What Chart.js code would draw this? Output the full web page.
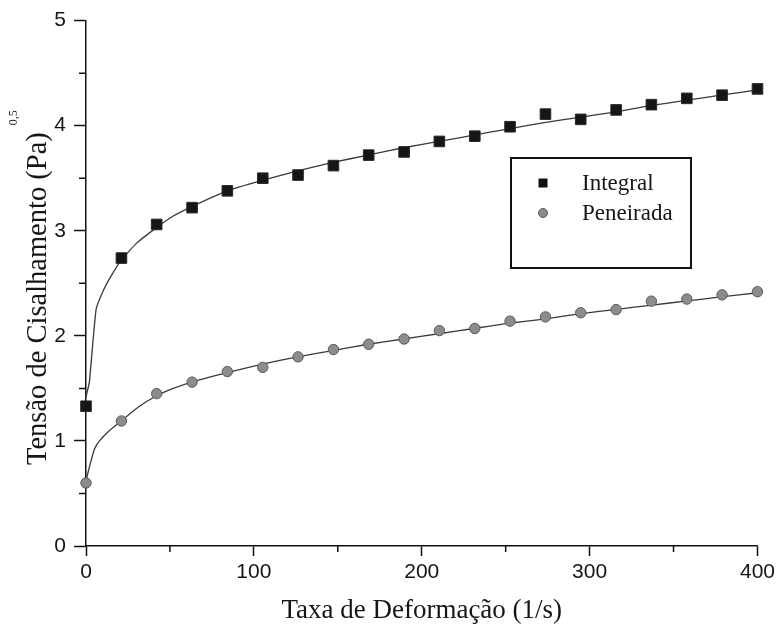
<!DOCTYPE html>
<html>
<head>
<meta charset="utf-8">
<script src="https://cdn.jsdelivr.net/npm/chart.js@4.4.0/dist/chart.umd.min.js"></script>
<style>
  html, body { margin: 0; padding: 0; background: #fff; }
</style>
</head>
<body>
<canvas id="chartTensao" width="779" height="629"></canvas>
<script>
"use strict";

// Taxa de deformação (1/s) dos pontos medidos
var taxa = [0, 21.1, 42.1, 63.2, 84.2, 105.3, 126.3, 147.4, 168.4, 189.5,
            210.5, 231.6, 252.6, 273.7, 294.7, 315.8, 336.8, 357.9, 378.9, 400];

// Tensão de cisalhamento^0,5
var integral  = [1.33, 2.74, 3.06, 3.22, 3.38, 3.50, 3.53, 3.62, 3.72, 3.75,
                 3.85, 3.90, 3.99, 4.11, 4.06, 4.15, 4.20, 4.26, 4.29, 4.35];
var peneirada = [0.60, 1.19, 1.45, 1.56, 1.66, 1.70, 1.80, 1.87, 1.92, 1.97,
                 2.05, 2.07, 2.14, 2.18, 2.22, 2.25, 2.33, 2.35, 2.39, 2.42];

// Curvas de ajuste
var ajusteTaxaI    = [0, 2, 6, 10, 15, 21, 30, 42, 52, 63, 84, 105, 126, 147, 168, 189, 210,
                      231, 252, 273, 294, 315, 336, 357, 378, 400];
var ajusteIntegral = [1.42, 1.56, 2.25, 2.42, 2.57, 2.72, 2.88, 3.03, 3.14, 3.23, 3.38, 3.48, 3.57,
                      3.65, 3.72, 3.79, 3.85, 3.91, 3.97, 4.03, 4.08, 4.13, 4.19, 4.24, 4.29, 4.34];
var ajusteTaxaP     = [0, 2, 5, 8, 14, 21, 31, 42, 52, 63, 84, 105, 126, 147, 168, 189, 210,
                       231, 252, 273, 294, 315, 336, 357, 378, 400];
var ajustePeneirada = [0.62, 0.75, 0.92, 1.00, 1.10, 1.19, 1.32, 1.43, 1.50, 1.56, 1.65, 1.73, 1.80,
                       1.86, 1.92, 1.97, 2.02, 2.07, 2.12, 2.16, 2.21, 2.25, 2.29, 2.33, 2.37, 2.41];

var rotulosX = [0, 100, 200, 300, 400];
var rotulosY = [0, 1, 2, 3, 4, 5];

var tituloX = 'Taxa de Deformação (1/s)';
var tituloY = 'Tensão de Cisalhamento (Pa)';
var expoenteY = '0,5';

function pares(xs, ys) {
  return xs.map(function (x, i) { return { x: x, y: ys[i] }; });
}

var corTexto = '#161616';
var fonteSerif = "'Liberation Serif', 'Times New Roman', serif";
var fonteSans  = "'Liberation Sans', Arial, sans-serif";

// ticks menores mais curtos que os maiores
var ticksMenores = {
  id: 'ticksMenores',
  afterDraw: function (chart) {
    var ctx = chart.ctx, a = chart.chartArea;
    var sx = chart.scales.x, sy = chart.scales.y;
    ctx.save();
    ctx.strokeStyle = '#111';
    ctx.lineWidth = 1.5;
    ctx.beginPath();
    sx.ticks.forEach(function (t) {
      if (rotulosX.indexOf(t.value) >= 0) return;
      var px = sx.getPixelForValue(t.value);
      ctx.moveTo(px, a.bottom); ctx.lineTo(px, a.bottom + 6);
    });
    sy.ticks.forEach(function (t) {
      if (rotulosY.indexOf(t.value) >= 0) return;
      var py = sy.getPixelForValue(t.value);
      ctx.moveTo(a.left, py); ctx.lineTo(a.left - 7, py);
    });
    ctx.stroke();
    ctx.restore();
  }
};

// título do eixo y com expoente
var tituloEixoY = {
  id: 'tituloEixoY',
  afterDraw: function (chart) {
    var ctx = chart.ctx;
    ctx.save();
    ctx.translate(46, 465);
    ctx.rotate(-Math.PI / 2);
    ctx.fillStyle = corTexto;
    ctx.textBaseline = 'alphabetic';
    ctx.textAlign = 'left';
    ctx.font = '28.5px ' + fonteSerif;
    ctx.fillText(tituloY, 0, 0);
    var w = ctx.measureText(tituloY).width;
    ctx.font = '12px ' + fonteSerif;
    ctx.fillText(expoenteY, w + 7, -29);
    ctx.restore();
  }
};

// legenda em caixa dentro do gráfico
var legendaCaixa = {
  id: 'legendaCaixa',
  afterDraw: function (chart) {
    var ctx = chart.ctx;
    var ds = chart.data.datasets;
    ctx.save();
    ctx.strokeStyle = '#111';
    ctx.lineWidth = 2;
    ctx.strokeRect(511, 158, 180, 110);

    ctx.fillStyle = '#111';
    ctx.fillRect(538.5, 178.5, 9, 9);

    ctx.beginPath();
    ctx.arc(543, 213, 4.5, 0, Math.PI * 2);
    ctx.fillStyle = '#8c8c8c';
    ctx.fill();
    ctx.strokeStyle = '#5a5a5a';
    ctx.lineWidth = 1;
    ctx.stroke();

    ctx.fillStyle = corTexto;
    ctx.font = '23px ' + fonteSerif;
    ctx.textBaseline = 'middle';
    ctx.textAlign = 'left';
    ctx.fillText(ds[0].label, 582, 184);
    ctx.fillText(ds[1].label, 582, 214);
    ctx.restore();
  }
};

new Chart(document.getElementById('chartTensao'), {
  type: 'scatter',
  data: {
    datasets: [
      {
        label: 'Integral',
        data: pares(taxa, integral),
        pointStyle: 'rect',
        pointRadius: 7.5,
        backgroundColor: '#151515',
        borderColor: '#2a2a2a',
        borderWidth: 1,
        clip: false
      },
      {
        label: 'Peneirada',
        data: pares(taxa, peneirada),
        pointStyle: 'circle',
        pointRadius: 5.2,
        backgroundColor: '#8c8c8c',
        borderColor: '#5a5a5a',
        borderWidth: 1,
        clip: false
      },
      {
        label: 'ajuste Integral',
        data: pares(ajusteTaxaI, ajusteIntegral),
        showLine: true,
        pointRadius: 0,
        borderColor: '#3a3a3a',
        borderWidth: 1.3,
        tension: 0.15,
        clip: false
      },
      {
        label: 'ajuste Peneirada',
        data: pares(ajusteTaxaP, ajustePeneirada),
        showLine: true,
        pointRadius: 0,
        borderColor: '#3a3a3a',
        borderWidth: 1.3,
        tension: 0.15,
        clip: false
      }
    ]
  },
  options: {
    responsive: false,
    animation: false,
    layout: { padding: { left: 0, right: 21, top: 18, bottom: 0 } },
    plugins: {
      legend: { display: false },
      tooltip: { enabled: false }
    },
    scales: {
      x: {
        type: 'linear',
        min: 0,
        max: 400,
        border: { color: '#111', width: 1.5 },
        grid: {
          drawOnChartArea: false,
          tickLength: 10,
          tickWidth: 1.5,
          tickColor: function (c) {
            return rotulosX.indexOf(c.tick.value) >= 0 ? '#111' : 'rgba(0,0,0,0)';
          }
        },
        ticks: {
          stepSize: 50,
          autoSkip: false,
          maxRotation: 0,
          padding: 4,
          color: corTexto,
          font: { family: fonteSans, size: 21 },
          callback: function (v) { return rotulosX.indexOf(v) >= 0 ? String(v) : ''; }
        },
        title: {
          display: true,
          text: tituloX,
          color: corTexto,
          font: { family: fonteSerif, size: 27 },
          padding: { top: 0, bottom: 2 }
        },
        afterFit: function (s) { s.height = 83; }
      },
      y: {
        type: 'linear',
        min: 0,
        max: 5,
        border: { color: '#111', width: 1.5 },
        grid: {
          drawOnChartArea: false,
          tickLength: 12,
          tickWidth: 1.5,
          tickColor: function (c) {
            return rotulosY.indexOf(c.tick.value) >= 0 ? '#111' : 'rgba(0,0,0,0)';
          }
        },
        ticks: {
          stepSize: 0.5,
          autoSkip: false,
          padding: 8,
          color: corTexto,
          font: { family: fonteSans, size: 21 },
          callback: function (v) { return rotulosY.indexOf(v) >= 0 ? String(v) : ''; }
        },
        afterFit: function (s) { s.width = 86; }
      }
    }
  },
  plugins: [ticksMenores, tituloEixoY, legendaCaixa]
});
</script>
</body>
</html>
